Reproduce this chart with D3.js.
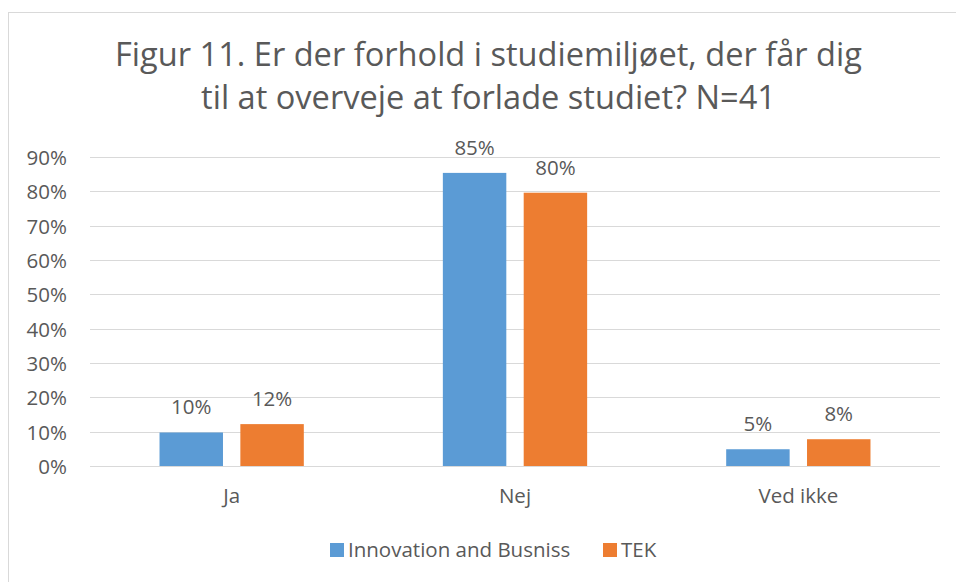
<!DOCTYPE html>
<html>
<head>
<meta charset="utf-8">
<script src="https://cdn.jsdelivr.net/npm/d3@7"></script>
<style>
  body { margin: 0; background: #fff; }
  text { font-family: "Open Sans", sans-serif; fill: #595959; }
</style>
</head>
<body>
<div id="chart"></div>
<script>
// data
let categories = ["Ja", "Nej", "Ved ikke"];
let seriesNames = ["Innovation and Busniss", "TEK"];
let innovation = [9.76, 85.37, 4.88];
let tek = [12.2, 79.6, 7.8];
let yTicks = [0, 10, 20, 30, 40, 50, 60, 70, 80, 90];
let titleLines = ["Figur 11. Er der forhold i studiemiljøet, der får dig",
                  "til at overveje at forlade studiet? N=41"];

let colors = ["#5b9bd5", "#ed7d31"];
let seriesValues = [innovation, tek];

let width = 956, height = 582;
let plot = { left: 90, right: 940, top: 157, bottom: 466 };

let svg = d3.select("#chart").append("svg")
  .attr("width", width).attr("height", height);

// chart frame
svg.append("rect")
  .attr("x", 8.5).attr("y", 12.5)
  .attr("width", 960).attr("height", 600)
  .attr("fill", "#fff").attr("stroke", "#d9d9d9");

// title, two lines
svg.append("g").selectAll("text")
  .data(titleLines)
  .enter().append("text")
  .attr("x", 488.5)
  .attr("y", (d, i) => 66 + i * 43)
  .attr("text-anchor", "middle")
  .style("font-size", "32.6px")
  .text(d => d);

let y = d3.scaleLinear().domain([0, 90]).range([plot.bottom, plot.top]);
let x0 = d3.scaleBand().domain(categories).range([plot.left, plot.right]);
let x1 = d3.scaleBand().domain(seriesNames)
  .range([0, x0.bandwidth()]).paddingInner(0.215).paddingOuter(0.86);

// gridlines
svg.append("g").selectAll("line")
  .data(yTicks)
  .enter().append("line")
  .attr("x1", plot.left).attr("x2", plot.right)
  .attr("y1", d => Math.round(y(d)) + 0.5).attr("y2", d => Math.round(y(d)) + 0.5)
  .attr("stroke", "#d9d9d9").attr("stroke-width", 1);

// y tick labels
svg.append("g").selectAll("text")
  .data(yTicks)
  .enter().append("text")
  .attr("x", 67)
  .attr("y", d => y(d) + 8)
  .attr("text-anchor", "end")
  .style("font-size", "20.5px")
  .text(d => d + "%");

// bars
let groups = svg.append("g").selectAll("g")
  .data(categories)
  .enter().append("g")
  .attr("transform", d => `translate(${x0(d)},0)`);

groups.selectAll("rect")
  .data((c, ci) => seriesNames.map((s, si) => ({ s, si, v: seriesValues[si][ci] })))
  .enter().append("rect")
  .attr("x", d => x1(d.s))
  .attr("width", x1.bandwidth())
  .attr("y", d => y(d.v))
  .attr("height", d => y(0) - y(d.v))
  .attr("fill", d => colors[d.si]);

// value labels
groups.selectAll("text.val")
  .data((c, ci) => seriesNames.map((s, si) => ({ s, si, v: seriesValues[si][ci] })))
  .enter().append("text")
  .attr("class", "val")
  .attr("x", d => x1(d.s) + x1.bandwidth() / 2)
  .attr("y", d => y(d.v) - 18)
  .attr("text-anchor", "middle")
  .style("font-size", "20.5px")
  .text(d => Math.round(d.v) + "%");

// category labels
svg.append("g").selectAll("text")
  .data(categories)
  .enter().append("text")
  .attr("x", d => x0(d) + x0.bandwidth() / 2)
  .attr("y", 503)
  .attr("text-anchor", "middle")
  .style("font-size", "20.5px")
  .text(d => d);

// legend
let legend = svg.append("g");
let legendX = [330, 603];
seriesNames.forEach((name, i) => {
  legend.append("rect")
    .attr("x", legendX[i]).attr("y", 543)
    .attr("width", 14).attr("height", 14)
    .attr("fill", colors[i]);
  legend.append("text")
    .attr("x", legendX[i] + 18).attr("y", 557)
    .style("font-size", "20.5px")
    .text(name);
});
</script>
</body>
</html>
